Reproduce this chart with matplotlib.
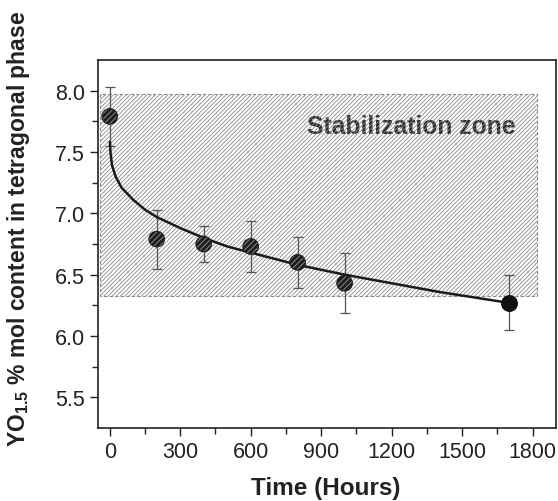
import matplotlib
matplotlib.use("Agg")
import matplotlib.pyplot as plt
import numpy as np

plt.rcParams['font.family'] = ['Liberation Sans', 'DejaVu Sans']
plt.rcParams['mathtext.fontset'] = 'custom'
plt.rcParams['mathtext.bf'] = 'Liberation Sans:bold'
plt.rcParams['mathtext.rm'] = 'Liberation Sans'
plt.rcParams['hatch.linewidth'] = 0.6

# measured points
hours = [0, 200, 400, 600, 800, 1000, 1700]
yo_content = [7.79, 6.79, 6.75, 6.73, 6.60, 6.43, 6.27]
err_up = [0.24, 0.24, 0.15, 0.21, 0.21, 0.25, 0.23]
err_down = [0.24, 0.24, 0.15, 0.21, 0.21, 0.24, 0.22]

# fitted trend
fit_hours = [1, 3, 10, 25, 50, 100, 150, 200, 300, 400, 500, 600, 800, 1000, 1200, 1400, 1700]
fit_content = [7.58, 7.50, 7.39, 7.30, 7.21, 7.11, 7.03, 6.97, 6.88, 6.80, 6.73, 6.68,
               6.58, 6.50, 6.43, 6.36, 6.27]

# stabilization zone
zone_x = [-40, 1820]
zone_low = 6.33
zone_high = 7.97

fig = plt.figure(figsize=(5.58, 5.02), dpi=100)
ax = fig.add_axes([0.1756, 0.1454, 0.8208, 0.7331])

# text sits under the hatch, like in the original
ax.text(1282, 7.71, 'Stabilization zone', fontsize=17.8, fontweight='bold',
        color='#2a2a2a', ha='center', va='center', zorder=0.5)
ax.fill_between(zone_x, zone_low, zone_high, facecolor='none', edgecolor='#8a8a8a',
                hatch='////////', linewidth=0.8, linestyle=(0, (3, 2)), zorder=1)

ax.plot(fit_hours, fit_content, color='#1a1a1a', lw=1.8, zorder=3)

ax.errorbar(hours, yo_content, yerr=[err_down, err_up], fmt='none', ecolor='#555555',
            elinewidth=0.9, capsize=3.5, capthick=0.9, zorder=2)

ax.scatter(hours[:-1], yo_content[:-1], s=125, facecolor='#1e1e1e', edgecolor='#9a9a9a',
           hatch='//////', linewidth=0, zorder=4)
ax.scatter(hours[:-1], yo_content[:-1], s=125, facecolor='none', edgecolor='#1e1e1e',
           linewidth=0.8, zorder=5)
ax.scatter(hours[-1:], yo_content[-1:], s=125, facecolor='#111111', edgecolor='#111111',
           zorder=5)

ax.set_xlim(-50, 1900)
ax.set_ylim(5.25, 8.25)
ax.set_xticks(np.arange(0, 1801, 300))
ax.set_xticks(np.arange(150, 1800, 300), minor=True)
ax.set_yticks(np.arange(5.5, 8.01, 0.5))
ax.set_yticks(np.arange(5.75, 8.25, 0.5), minor=True)
ax.yaxis.set_major_formatter(matplotlib.ticker.FormatStrFormatter('%.1f'))

ax.tick_params(which='both', direction='out', labelsize=15.5, color='#222222',
               labelcolor='#222222', width=1.0)
ax.tick_params(which='major', length=6)
ax.tick_params(which='minor', length=4)
for s in ax.spines.values():
    s.set_linewidth(1.2)
    s.set_color('#222222')

ax.set_xlabel('Time (Hours)', fontsize=17.5, fontweight='bold', color='#222222')
ax.set_ylabel(r'YO$_{\mathbf{1.5}}$ % mol content in tetragonal phase', fontsize=16.5,
              fontweight='bold', color='#222222')
ax.xaxis.set_label_coords(0.498, -0.13)
ax.yaxis.set_label_coords(-0.145, 0.545)

fig.savefig('out.png', dpi=100)
